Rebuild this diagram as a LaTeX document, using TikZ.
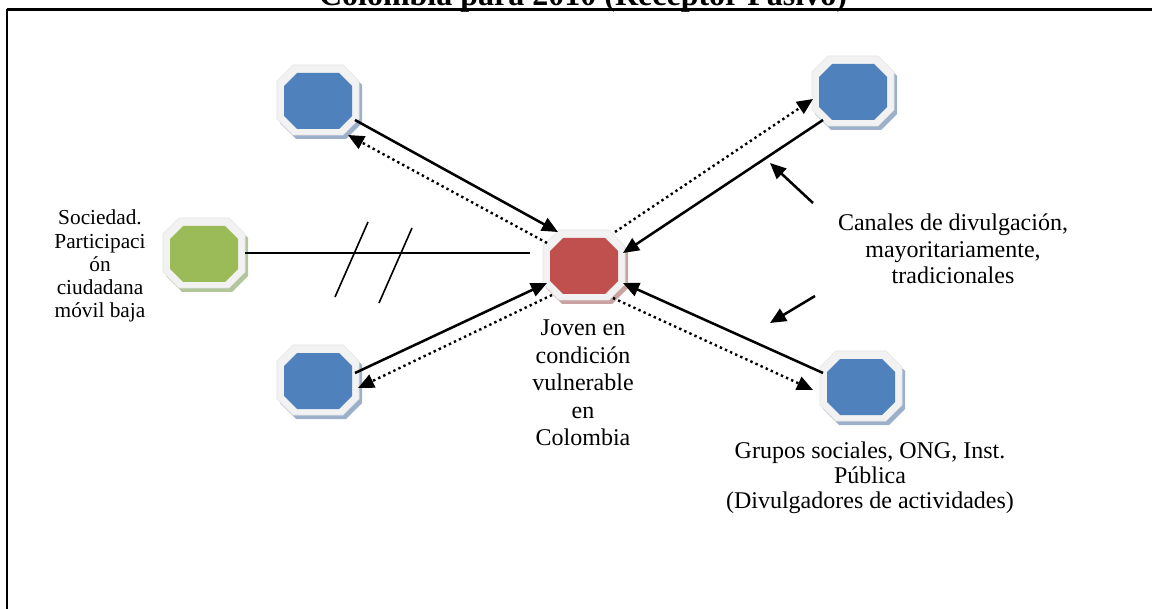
\documentclass[tikz,border=0pt]{standalone}
\usepackage{fontspec}
\setmainfont{Liberation Serif}
\usetikzlibrary{arrows.meta,calc}
\definecolor{ublue}{HTML}{4F81BD}
\definecolor{ured}{HTML}{C0504D}
\definecolor{ugreen}{HTML}{9BBB59}
\definecolor{sblue}{HTML}{9DB0CB}
\definecolor{sred}{HTML}{C9A3A2}
\definecolor{sgreen}{HTML}{B3C59B}
\definecolor{octgray}{HTML}{F2F2F2}
\newcommand\octpath[6]{($(#1)+(#2-#4+#6,#3-#5)$) -- ($(#1)+(#2+#4-#6,#3-#5)$) -- ($(#1)+(#2+#4,#3-#5+#6)$) -- ($(#1)+(#2+#4,#3+#5-#6)$) -- ($(#1)+(#2+#4-#6,#3+#5)$) -- ($(#1)+(#2-#4+#6,#3+#5)$) -- ($(#1)+(#2-#4,#3+#5-#6)$) -- ($(#1)+(#2-#4,#3-#5+#6)$) -- cycle}
\newcommand\drawoct[3]{%
  \fill[#3] \octpath{#1}{3}{4}{41}{35}{16};
  \filldraw[fill=octgray,draw=gray!20,line width=0.4pt] \octpath{#1}{0}{0}{41}{35}{16};
  \fill[#2] \octpath{#1}{0}{1}{34}{28}{13};
}
\begin{document}
\begin{tikzpicture}[x=0.75pt,y=-0.75pt,
  txt/.style={align=center,inner sep=0pt,font=\fontsize{18}{20}\selectfont},
  solidarrow/.style={line width=1.9pt,-{Triangle[length=12pt,width=10.5pt]}},
  dotarrow/.style={line width=1.8pt,dash pattern=on 1.8pt off 2.4pt,-{Triangle[length=12pt,width=10.5pt]}},
  smallarrow/.style={line width=1.9pt,-{Triangle[length=12pt,width=10.5pt]}},
  thinline/.style={line width=1.2pt}]
\useasboundingbox (0,0) rectangle (1152,609);
\fill[white] (0,0) rectangle (1152,609);
% frame
\draw[line width=1.2pt] (7,620) -- (7,9);
\draw[line width=1.8pt] (6.5,9.5) -- (1160,9.5);
% title (cut off at the top, as in the reference)
\node[anchor=base,inner sep=0pt,font=\bfseries\fontsize{24}{26}\selectfont] (title) at (583,6) {Colombia para 2010 (Receptor Pasivo)};
% octagon centres
\coordinate (tl) at (318,100);
\coordinate (tr) at (853,91);
\coordinate (bl) at (318,380);
\coordinate (br) at (861,386);
\coordinate (gr) at (204,253);
\coordinate (rd) at (584,265);
\drawoct{tl}{ublue}{sblue}
\drawoct{tr}{ublue}{sblue}
\drawoct{bl}{ublue}{sblue}
\drawoct{br}{ublue}{sblue}
\drawoct{gr}{ugreen}{sgreen}
\drawoct{rd}{ured}{sred}
% connectors
\draw[solidarrow] ($(tl)+(37,20)$) -- ($(rd)+(-26,-33)$);
\draw[dotarrow] ($(rd)+(-37,-22)$) -- ($(tl)+(30,35)$);
\draw[solidarrow] ($(tr)+(-30,29)$) -- ($(rd)+(39,-12)$);
\draw[dotarrow] ($(rd)+(31,-33)$) -- ($(tr)+(-40,8)$);
\draw[solidarrow] ($(bl)+(37,-7)$) -- ($(rd)+(-37,18)$);
\draw[dotarrow] ($(rd)+(-32,30)$) -- ($(bl)+(40,8)$);
\draw[solidarrow] ($(br)+(-38,-13)$) -- ($(rd)+(39,18)$);
\draw[dotarrow] ($(rd)+(29,33)$) -- ($(br)+(-48,4)$);
\draw[thinline] ($(gr)+(41,0)$) -- ($(rd)+(-54,-12)$);
% break marks
\coordinate (h1a) at (368,222); \coordinate (h1b) at (335,297);
\coordinate (h2a) at (412,228); \coordinate (h2b) at (379,303);
\draw[thinline] (h1a) -- (h1b);
\draw[thinline] (h2a) -- (h2b);
% small arrows
\coordinate (s1a) at (813,203); \coordinate (s1b) at (770,163);
\coordinate (s2a) at (815,296); \coordinate (s2b) at (770,323);
\draw[smallarrow] (s1a) -- (s1b);
\draw[smallarrow] (s2a) -- (s2b);
% texts
\node[txt,font=\fontsize{16}{17.3}\selectfont] (soc) at (100,266) {Sociedad.\\Participaci\\ón\\ciudadana\\móvil baja};
\node[txt,font=\fontsize{18}{20.6}\selectfont] (joven) at (583,383) {Joven en\\condición\\vulnerable\\en\\Colombia};
\node[txt,font=\fontsize{18}{19.9}\selectfont] (canales) at (953,249) {Canales de divulgación,\\mayoritariamente,\\tradicionales};
\node[txt,font=\fontsize{18}{18.8}\selectfont] (grupos) at (870,478) {Grupos sociales, ONG, Inst.\\Pública\\(Divulgadores de actividades)};
\end{tikzpicture}
\end{document}
